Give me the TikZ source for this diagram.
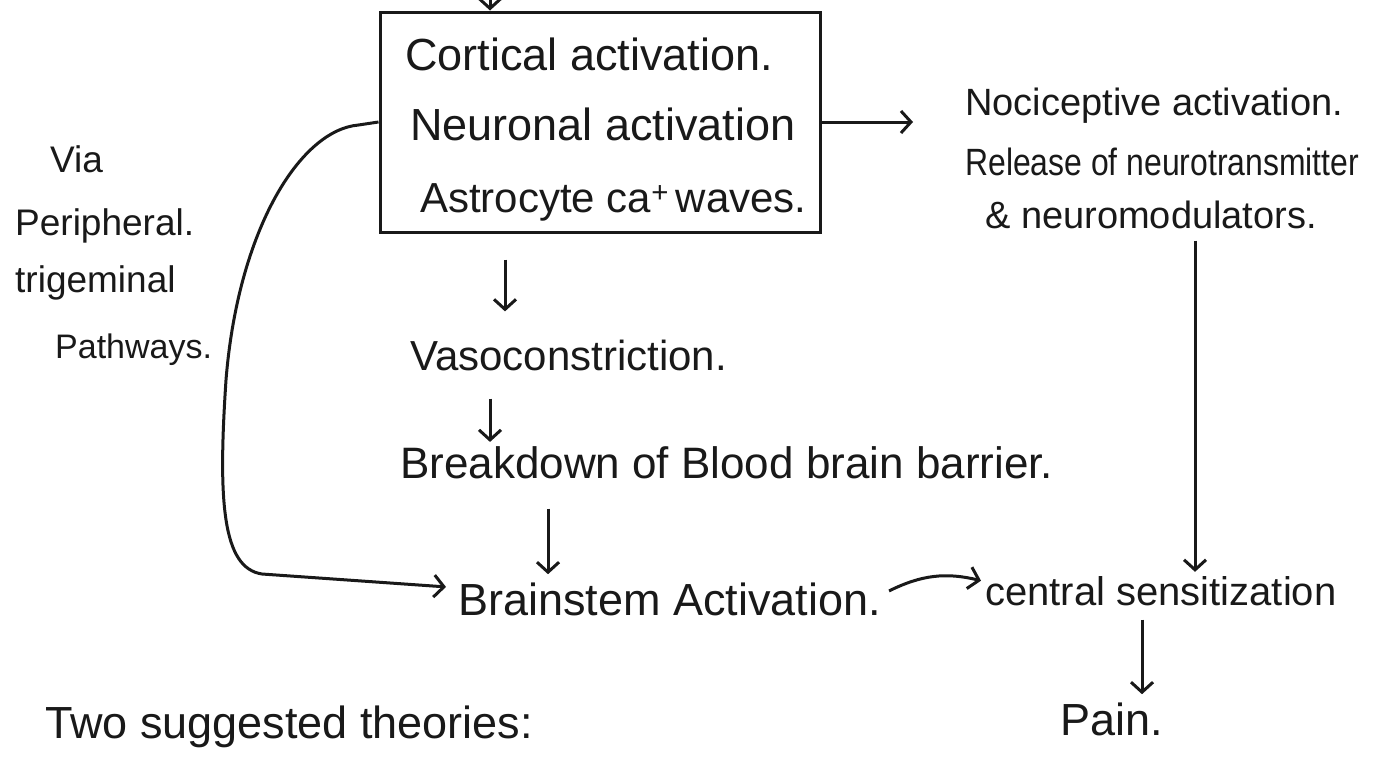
\documentclass[tikz,border=0pt]{standalone}
\usepackage{fontspec}
\usepackage{graphicx}
\setmainfont{Liberation Sans}
\usetikzlibrary{arrows.meta,calc}
\begin{document}
\begin{tikzpicture}[x=1pt,y=-1pt,
  ink/.style={line width=3pt, draw=black!90},
  arr/.style={ink, -{Straight Barb[length=10pt,width=22pt]}},
  txt/.style={inner sep=0pt, anchor=base west, text=black!90},
  big/.style={font=\fontsize{45}{52}\selectfont},
  mid/.style={font=\fontsize{40}{46}\selectfont},
  lab/.style={font=\fontsize{37}{42}\selectfont},
  small/.style={font=\fontsize{38}{44}\selectfont},
  boxstyle/.style={ink, minimum width=440pt, minimum height=220pt, inner sep=0pt}
]
\useasboundingbox[fill=white] (0,0) rectangle (1380,756);

% central box
\node[boxstyle] (box) at (600,122) {};
\node[txt,big] (c1) at (405,70) {Cortical activation.};
\node[txt,big] (c2) at (410,140) {Neuronal activation};
\node[txt,font=\fontsize{42}{48}\selectfont] (c3) at (420,212) {Astrocyte ca\textsuperscript{+}\,waves.};

% right block
\node[txt,small] (n1) at (965,115) {Nociceptive activation.};
\node[txt,small] (n2) at (965,175) {\scalebox{0.84}[1]{Release of neurotransmitter}};
\node[txt,small] (n3) at (985,228) {\& neuromodulators.};

% left label
\node[txt,lab] (l1) at (50,172) {Via};
\node[txt,lab] (l2) at (15,235) {Peripheral.};
\node[txt,lab] (l3) at (15,292) {trigeminal};
\node[txt,font=\fontsize{34}{40}\selectfont] (l4) at (55,358) {Pathways.};

% central chain
\node[txt,font=\fontsize{42}{48}\selectfont] (vaso) at (410,370) {Vasoconstriction.};
\node[txt,font=\fontsize{44}{50}\selectfont] (bbb) at (400,478) {Breakdown of Blood brain barrier.};
\node[txt,big] (brain) at (458,615) {Brainstem Activation.};
\node[txt,mid] (cs) at (985,605) {central sensitization};
\node[txt,big] (pain) at (1060,735) {Pain.};
\node[txt,big] (two) at (45,738) {Two suggested theories:};

% connectors
\coordinate (topin) at (490,-30);
\draw[arr] (topin) -- (box.north -| topin);

\draw[arr, shorten >=52pt] (box.east) -- (box.east -| n1.west);

\coordinate (vx) at (1195,0);
\draw[arr] ($(n3.south -| vx)+(0,12)$) -- ($(cs.north -| vx)+(0,-4)$);

\coordinate (ax) at (505,0);
\draw[arr] ($(box.south -| ax)+(0,26)$) -- ($(vaso.north -| ax)+(0,-28)$);

\coordinate (bx) at (490,0);
\draw[arr] ($(vaso.south -| bx)+(0,28)$) -- ($(bbb.north -| bx)+(0,-4)$);

\coordinate (cx) at (548,0);
\draw[arr] ($(bbb.south -| cx)+(0,30)$) -- ($(brain.north -| cx)+(0,-8)$);

\draw[arr] (box.west) -- ++(-20,3)
  .. controls (300,130) and (238,230) .. (226,380)
  .. controls (218,500) and (222,568) .. (262,574)
  -- ($(brain.west)+(-12,-12)$);

\draw[arr] ($(brain.east)+(8,-8)$) to[bend left=20] ($(cs.west)+(-4,-10)$);

\coordinate (px) at (1142,0);
\draw[arr] ($(cs.south -| px)+(0,14)$) -- ($(pain.north -| px)+(0,-8)$);
\end{tikzpicture}
\end{document}
